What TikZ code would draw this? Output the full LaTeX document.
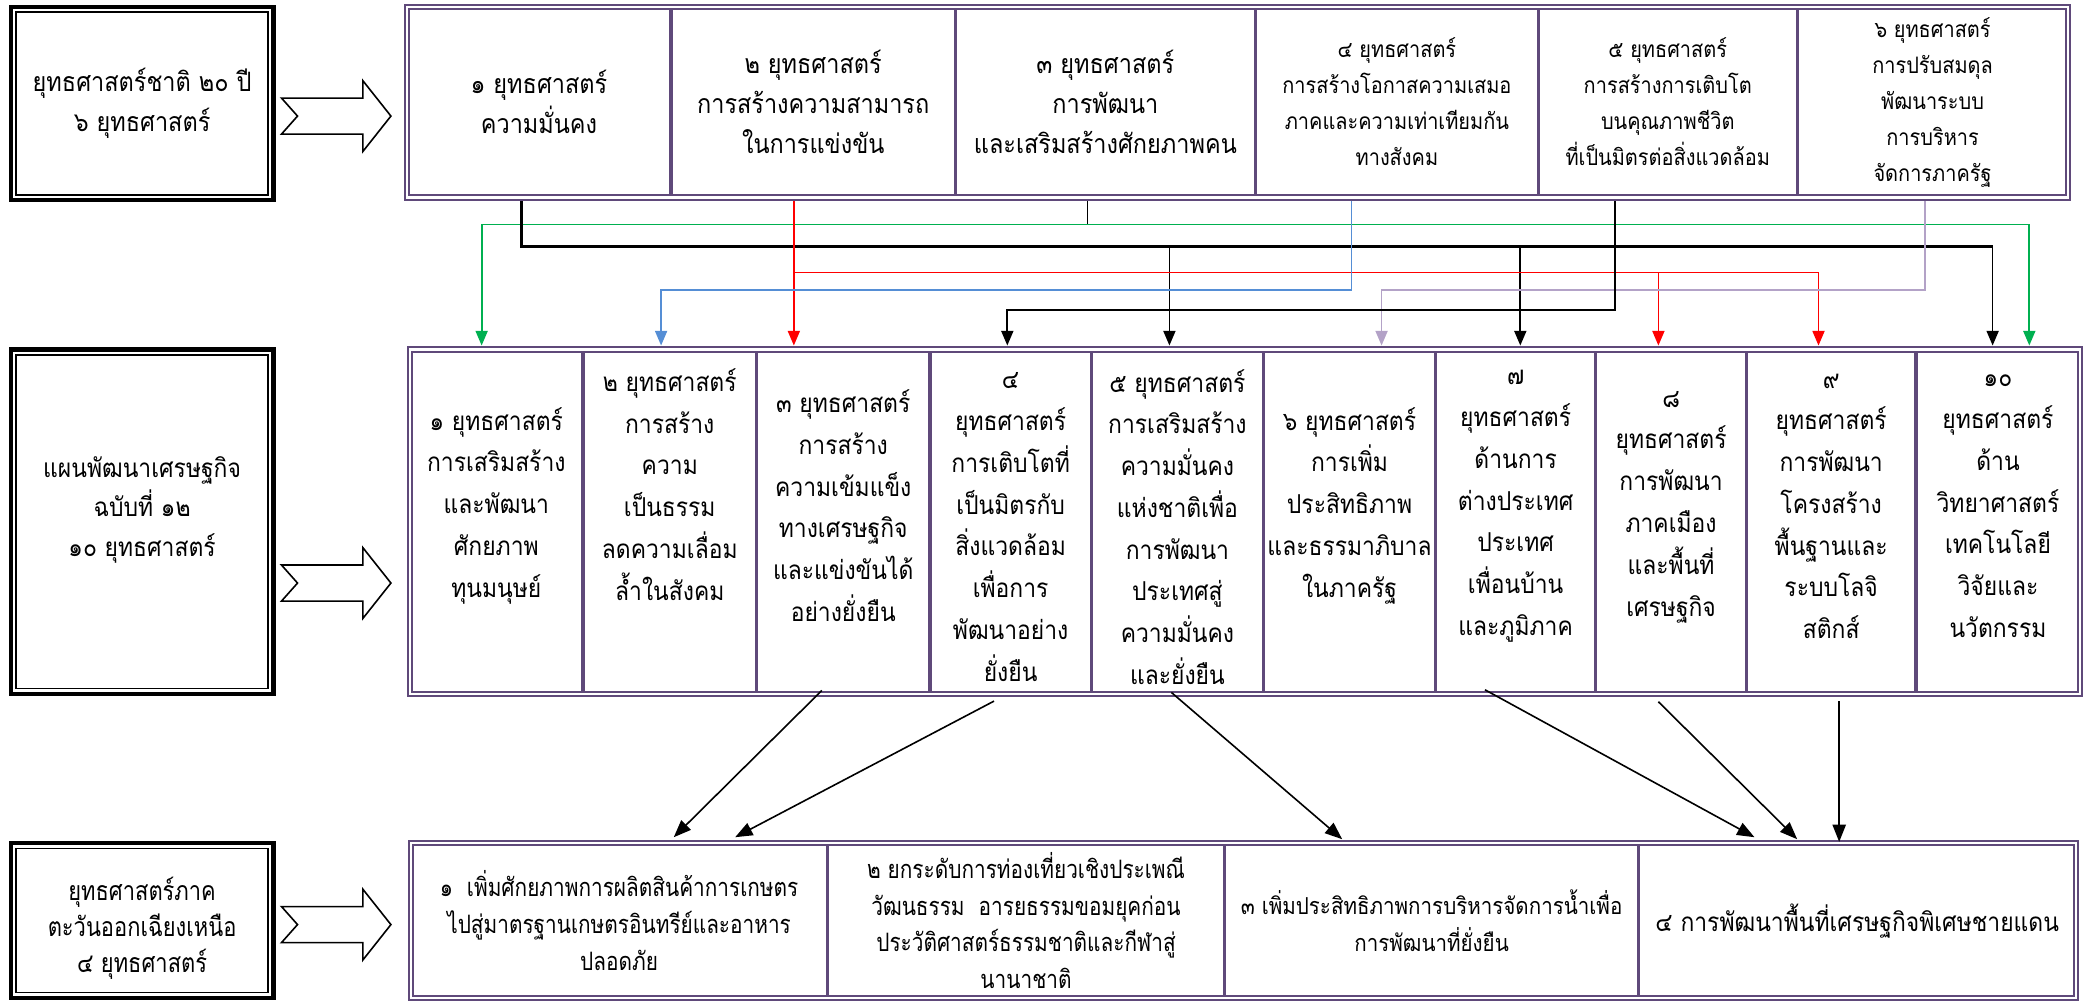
\documentclass[tikz,border=0pt]{standalone}
\usepackage{fontspec}
\setmainfont[Script=Thai,FakeStretch=0.88]{Loma}
\newfontfamily\narrowthai[Script=Thai,FakeStretch=0.82]{Loma}
\usetikzlibrary{arrows.meta}
\definecolor{framepurple}{HTML}{5F497A}
\definecolor{linkgreen}{HTML}{00B050}
\definecolor{linkblue}{HTML}{558ED5}
\definecolor{linklilac}{HTML}{B3A2C7}

\begin{document}
\begin{tikzpicture}[x=1pt,y=-1pt,>={Triangle[width=9pt,length=11pt]}]
        \tikzstyle{every node}=[inner sep=0pt, outer sep=0pt, align=center]
        \tikzstyle{headbox}=[draw, line width=3.2pt, minimum width=197pt]
        \tikzstyle{cell}=[draw=framepurple, line width=2.5pt]
        \tikzstyle{rowframe}=[draw=framepurple, double=white, line width=1.5pt, double distance=1.6pt]
        \tikzstyle{bigtext}=[font=\fontsize{20}{30}\selectfont]
        \tikzstyle{smalltext}=[font=\fontsize{17}{27}\selectfont]
        \tikzstyle{midtext}=[font=\fontsize{19.5}{31.3}\selectfont]
        \tikzstyle{lowtext}=[font=\fontsize{17.5}{27.5}\selectfont]
        \tikzstyle{narrowtext}=[font=\narrowthai\fontsize{19}{27.5}\selectfont]
        \tikzstyle{feed}=[line width=1.3pt, ->]
        \tikzstyle{bus}=[line width=2.4pt]
        \tikzstyle{down}=[line width=1.2pt, -{Triangle[width=10pt,length=13pt]}]
        \useasboundingbox (0,0) rectangle (1568,750.3);

        % left headings
        \node[headbox, minimum height=145pt, bigtext] (nat) at (106.5,77.5) {ยุทธศาสตร์ชาติ ๒๐ ปี\\๖ ยุทธศาสตร์};
        \node[headbox, minimum height=258pt] (plan) at (106.5,391) {};
        \node[font=\fontsize{19.5}{29.5}\selectfont] (plant) at ([yshift=9pt]plan.center) {แผนพัฒนาเศรษฐกิจ\\ฉบับที่ ๑๒\\๑๐ ยุทธศาสตร์};
        \node[headbox, minimum height=116pt] (isan) at (106.5,690) {};
        \node[font=\narrowthai\fontsize{20}{27}\selectfont] (isant) at ([yshift=-6pt]isan.center) {ยุทธศาสตร์ภาค\\ตะวันออกเฉียงเหนือ\\๔ ยุทธศาสตร์};
        \draw[line width=1.2pt] ([shift={(4pt,-4pt)}]nat.north west) rectangle ([shift={(-4pt,4pt)}]nat.south east);
        \draw[line width=1.2pt] ([shift={(4pt,-4pt)}]plan.north west) rectangle ([shift={(-4pt,4pt)}]plan.south east);
        \draw[line width=1.2pt] ([shift={(4pt,-4pt)}]isan.north west) rectangle ([shift={(-4pt,4pt)}]isan.south east);

        % block arrows
        \foreach \y in {87,437,693}
            \draw[line width=1.2pt, fill=white, shift={(0,\y)}] (211,-13.5) -- (272,-13.5) -- (272,-26.5) -- (293,0)
                -- (272,26.5) -- (272,13.5) -- (211,13.5) -- (223,0) -- cycle;

        % national strategy row
        \node[cell, minimum width=198pt, minimum height=143pt, bigtext] (t1) at (404,76.5) {๑ ยุทธศาสตร์\\ความมั่นคง};
        \node[cell, minimum width=213pt, minimum height=143pt, bigtext] (t2) at (609.5,76.5) {๒ ยุทธศาสตร์\\การสร้างความสามารถ\\ในการแข่งขัน};
        \node[cell, minimum width=225pt, minimum height=143pt, bigtext] (t3) at (828.5,76.5) {๓ ยุทธศาสตร์\\การพัฒนา\\และเสริมสร้างศักยภาพคน};
        \node[cell, minimum width=212pt, minimum height=143pt, smalltext] (t4) at (1047,76.5) {๔ ยุทธศาสตร์\\การสร้างโอกาสความเสมอ\\ภาคและความเท่าเทียมกัน\\ทางสังคม};
        \node[cell, minimum width=194pt, minimum height=143pt, smalltext] (t5) at (1250,76.5) {๕ ยุทธศาสตร์\\การสร้างการเติบโต\\บนคุณภาพชีวิต\\ที่เป็นมิตรต่อสิ่งแวดล้อม};
        \node[cell, minimum width=203pt, minimum height=143pt, smalltext] (t6) at (1448.5,76.5) {๖ ยุทธศาสตร์\\การปรับสมดุล\\พัฒนาระบบ\\การบริหาร\\จัดการภาครัฐ};
        \draw[rowframe] (t1.north west) rectangle (t6.south east);

        % plan row
        \node[cell, minimum width=130pt, minimum height=258pt] (m1) at (372,391) {};
        \node[cell, minimum width=130pt, minimum height=258pt] (m2) at (502,391) {};
        \node[cell, minimum width=130pt, minimum height=258pt] (m3) at (632,391) {};
        \node[cell, minimum width=121pt, minimum height=258pt] (m4) at (757.5,391) {};
        \node[cell, minimum width=129pt, minimum height=258pt] (m5) at (882.5,391) {};
        \node[cell, minimum width=129pt, minimum height=258pt] (m6) at (1011.5,391) {};
        \node[cell, minimum width=120pt, minimum height=258pt] (m7) at (1136,391) {};
        \node[cell, minimum width=113pt, minimum height=258pt] (m8) at (1252.5,391) {};
        \node[cell, minimum width=127pt, minimum height=258pt] (m9) at (1372.5,391) {};
        \node[cell, minimum width=123pt, minimum height=258pt] (m10) at (1497.5,391) {};
        \draw[rowframe] (m1.north west) rectangle (m10.south east);
        \node[midtext] (m1t) at ([yshift=12pt]m1.center) {๑ ยุทธศาสตร์\\การเสริมสร้าง\\และพัฒนา\\ศักยภาพ\\ทุนมนุษย์};
        \node[midtext] (m2t) at ([yshift=28pt]m2.center) {๒ ยุทธศาสตร์\\การสร้าง\\ความ\\เป็นธรรม\\ลดความเลื่อม\\ล้ำในสังคม};
        \node[midtext] (m3t) at ([yshift=12pt]m3.center) {๓ ยุทธศาสตร์\\การสร้าง\\ความเข้มแข็ง\\ทางเศรษฐกิจ\\และแข่งขันได้\\อย่างยั่งยืน};
        \node[midtext] (m4t) at ([yshift=-4pt]m4.center) {๔\\ยุทธศาสตร์\\การเติบโตที่\\เป็นมิตรกับ\\สิ่งแวดล้อม\\เพื่อการ\\พัฒนาอย่าง\\ยั่งยืน};
        \node[midtext] (m5t) at ([yshift=-4pt]m5.center) {๕ ยุทธศาสตร์\\การเสริมสร้าง\\ความมั่นคง\\แห่งชาติเพื่อ\\การพัฒนา\\ประเทศสู่\\ความมั่นคง\\และยั่งยืน};
        \node[midtext] (m6t) at ([yshift=12pt]m6.center) {๖ ยุทธศาสตร์\\การเพิ่ม\\ประสิทธิภาพ\\และธรรมาภิบาล\\ในภาครัฐ};
        \node[midtext] (m7t) at ([yshift=11.5pt]m7.center) {๗\\ยุทธศาสตร์\\ด้านการ\\ต่างประเทศ\\ประเทศ\\เพื่อนบ้าน\\และภูมิภาค};
        \node[midtext] (m8t) at ([yshift=11pt]m8.center) {๘\\ยุทธศาสตร์\\การพัฒนา\\ภาคเมือง\\และพื้นที่\\เศรษฐกิจ};
        \node[midtext] (m9t) at ([yshift=11.5pt]m9.center) {๙\\ยุทธศาสตร์\\การพัฒนา\\โครงสร้าง\\พื้นฐานและ\\ระบบโลจิ\\สติกส์};
        \node[midtext] (m10t) at ([yshift=11.5pt]m10.center) {๑๐\\ยุทธศาสตร์\\ด้าน\\วิทยาศาสตร์\\เทคโนโลยี\\วิจัยและ\\นวัตกรรม};

        % regional row
        \node[cell, minimum width=312pt, minimum height=116pt, narrowtext] (b1) at (464,690) {๑~~เพิ่มศักยภาพการผลิตสินค้าการเกษตร\\ไปสู่มาตรฐานเกษตรอินทรีย์และอาหาร\\ปลอดภัย};
        \node[cell, minimum width=298pt, minimum height=116pt, narrowtext] (b2) at (769,690) {๒ ยกระดับการท่องเที่ยวเชิงประเพณี\\วัฒนธรรม~~อารยธรรมขอมยุคก่อน\\ประวัติศาสตร์ธรรมชาติและกีฬาสู่\\นานาชาติ};
        \node[cell, minimum width=310pt, minimum height=116pt, lowtext] (b3) at (1073,690) {๓ เพิ่มประสิทธิภาพการบริหารจัดการน้ำเพื่อ\\การพัฒนาที่ยั่งยืน};
        \node[cell, minimum width=328pt, minimum height=116pt, font=\fontsize{19.5}{27.5}\selectfont] (b4) at (1392,690) {๔ การพัฒนาพื้นที่เศรษฐกิจพิเศษชายแดน};
        \draw[rowframe] (b1.north west) rectangle (b4.south east);

        % where the lines leave the top row
        \coordinate (sK) at ([xshift=-13pt,yshift=-3pt]t1.south);
        \coordinate (sR) at ([xshift=-14.5pt,yshift=-3pt]t2.south);
        \coordinate (sS) at ([xshift=-13.5pt,yshift=-3pt]t3.south);
        \coordinate (sB) at ([xshift=-34pt,yshift=-3pt]t4.south);
        \coordinate (sL) at ([xshift=-39.5pt,yshift=-3pt]t5.south);
        \coordinate (sV) at ([xshift=-5.5pt,yshift=-3pt]t6.south);
        % where they reach the plan row
        \coordinate (tG1) at ([xshift=-11pt,yshift=3pt]m1.north);
        \coordinate (tB2) at ([xshift=-6.5pt,yshift=3pt]m2.north);
        \coordinate (tR3) at ([xshift=-37pt,yshift=3pt]m3.north);
        \coordinate (tL4) at ([xshift=-2.5pt,yshift=3pt]m4.north);
        \coordinate (tK5) at ([xshift=-6pt,yshift=3pt]m5.north);
        \coordinate (tV6) at ([xshift=24pt,yshift=3pt]m6.north);
        \coordinate (tK7) at ([xshift=3.5pt,yshift=3pt]m7.north);
        \coordinate (tR8) at ([xshift=-9.5pt,yshift=3pt]m8.north);
        \coordinate (tR9) at ([xshift=-9.5pt,yshift=3pt]m9.north);
        \coordinate (tK10) at ([xshift=-4pt,yshift=3pt]m10.north);
        \coordinate (tG10) at ([xshift=23.5pt,yshift=3pt]m10.north);

        \draw[line width=1.1pt] (sS) -- ++(0,17.25) coordinate (gg);
        \draw[feed, linkgreen, <->] (tG1) |- (gg) -| (tG10);
        \draw[bus] (sK) -- ++(0,33.5) coordinate (kk) -- (kk -| tK10);
        \draw[feed] (kk -| tK5) -- (tK5);
        \draw[feed] (kk -| tK7) -- (tK7);
        \draw[feed] (kk -| tK10) -- (tK10);
        \draw[feed, red] (sR) -- (tR3);
        \draw[feed, red] (sR) -- ++(0,53.25) coordinate (rr) -| (tR9);
        \draw[feed, red] (rr -| tR8) -- (tR8);
        \draw[feed, linkblue] (sB) -- ++(0,66.5) -| (tB2);
        \draw[feed, linklilac] (sV) -- ++(0,66.5) -| (tV6);
        \draw[feed] (sL) -- ++(0,81.5) -| (tL4);

        % plan row to regional row
        \draw[down] ([xshift=-16pt,yshift=2.5pt]m3.south) -- ([xshift=41pt,yshift=4.5pt]b1.north);
        \draw[down] ([xshift=-12.5pt,yshift=-5.5pt]m4.south) -- ([xshift=87pt,yshift=4.5pt]b1.north);
        \draw[down] ([xshift=-4.5pt,yshift=1pt]m5.south) -- ([xshift=-67pt,yshift=3pt]b3.north);
        \draw[down] ([xshift=-23pt,yshift=3pt]m7.south) -- ([xshift=-77pt,yshift=4.5pt]b4.north);
        \draw[down] ([xshift=-9.5pt,yshift=-6pt]m8.south) -- ([xshift=-45pt,yshift=3pt]b4.north);
        \draw[down] ([xshift=6pt,yshift=-5.5pt]m9.south) -- ([xshift=-13.5pt,yshift=1pt]b4.north);
\end{tikzpicture}
\end{document}
